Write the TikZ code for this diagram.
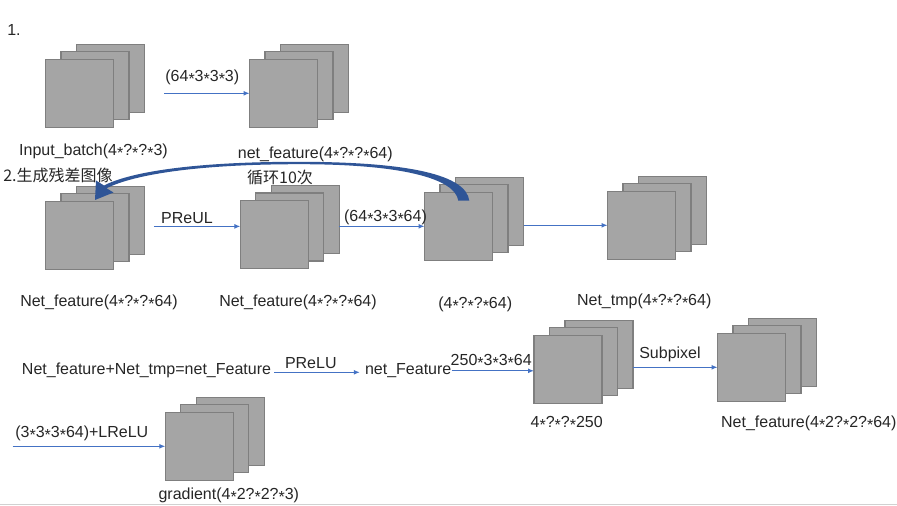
\documentclass[tikz,border=0pt]{standalone}
\usepackage{fontspec}
\setmainfont{Liberation Sans}
\newfontfamily\cjk{Noto Sans CJK SC}
\usepackage{tikz}
\usetikzlibrary{arrows.meta,calc}
\definecolor{mapgray}{HTML}{A5A5A5}
\definecolor{mapedge}{HTML}{7F7F7F}
\definecolor{flowblue}{HTML}{4472C4}
\definecolor{arcblue}{HTML}{2F5597}
\definecolor{txt}{HTML}{262626}

% three stacked feature maps, #1 = name of the front one, (#2,#3) its centre
\newcommand{\fmap}[3]{%
  \node[fm] (#1b) at ({#2+31},{#3-15}) {};
  \node[fm] (#1m) at ({#2+15.5},{#3-7.5}) {};
  \node[fm] (#1)  at (#2,#3) {};}
\newcommand{\ax}{\raisebox{-0.35ex}{*}}

\begin{document}
\begin{tikzpicture}[x=0.75pt, y=-0.75pt, >={Latex[length=4.5pt,width=3.75pt]},
    font=\fontsize{12}{14}\selectfont, text=txt,
    fm/.style={draw=mapedge, fill=mapgray, line width=0.9pt, minimum size=51pt,
               inner sep=0pt, outer sep=0pt},
    lab/.style={inner sep=0pt},
    flow/.style={->, draw=flowblue, line width=0.8pt},
    backarc/.style={fill=arcblue}]

    \useasboundingbox (0,0) rectangle (897,506);

    \fmap{in1}{79.5}{93.3}
    \fmap{nf1}{283.5}{93.3}
    \fmap{nf2}{79.5}{235.3}
    \fmap{nf3}{274.3}{234.5}
    \fmap{nf4}{458.5}{226.3}
    \fmap{tmp}{641.5}{225.3}
    \fmap{c250}{568}{369.3}
    \fmap{sub}{751.5}{367.3}
    \fmap{grad}{199.3}{446.3}

    \node[lab, anchor=west] (n1) at (7,30) {1.};
    \node[lab] (k1) at (202.3,77.5) {(64\ax3\ax3\ax3)};
    \node[lab] (l1) at (93.5,151.7) {Input\_batch(4\ax?\ax?\ax3)};
    \node[lab] (l2) at (315.3,154) {net\_feature(4\ax?\ax?\ax64)};
    \node[lab] (n2) at (58,175) {\cjk 2.生成残差图像};
    \node[lab] (rep) at (280,177) {\cjk 循环10次};
    \node[lab] (k2) at (187,217.6) {PReUL};
    \node[lab] (k3) at (385.5,217.6) {(64\ax3\ax3\ax64)};
    \node[lab] (l3) at (99,302) {Net\_feature(4\ax?\ax?\ax64)};
    \node[lab] (l4) at (298,302) {Net\_feature(4\ax?\ax?\ax64)};
    \node[lab] (l5) at (475.2,304.2) {(4\ax?\ax?\ax64)};
    \node[lab] (l6) at (644.2,301.7) {Net\_tmp(4\ax?\ax?\ax64)};
    \node[lab] (sum) at (146.5,370.8) {Net\_feature+Net\_tmp=net\_Feature};
    \node[lab] (k4) at (310.8,363.3) {PReLU};
    \node[lab] (nF) at (408.2,370.8) {net\_Feature};
    \node[lab] (k5) at (491.2,361) {250\ax3\ax3\ax64};
    \node[lab] (k6) at (670,354) {Subpixel};
    \node[lab] (l7) at (566.7,423.3) {4\ax?\ax?\ax250};
    \node[lab] (l8) at (808.8,423.3) {Net\_feature(4\ax2?\ax2?\ax64)};
    \node[lab] (k7) at (81.8,433.7) {(3\ax3\ax3\ax64)+LReLU};
    \node[lab] (l9) at (228.8,495.5) {gradient(4\ax2?\ax2?\ax3)};

    \coordinate (a1) at (164.3,93.3);
    \coordinate (a2) at (153.8,226.4);
    \coordinate (a8) at (12.7,446.3);

    \draw[flow] (a1) -- (nf1.west);
    \draw[flow] (a2) -- (a2 -| nf3.west);
    \draw[flow] (nf3b.east |- nf4.west) -- (nf4.west);
    \draw[flow] (nf4b.east |- tmp.west) -- (tmp.west);
    \draw[flow] ($(sum.east)+(3,1.5)$) -- ($(nF.west)+(-5,1.5)$);
    \draw[flow] (nF.east) -- (nF.east -| c250.west);
    \draw[flow] (c250b.east |- sub.west) -- (sub.west);
    \draw[flow] (a8) -- (grad.west);

    \fill[backarc] (469.3,200.7) .. controls (466,175) and (410,162) .. (300,161.8)
        .. controls (200,161.6) and (132,171) .. (104,185.5)
        -- (96,180.5) -- (95,200) -- (113.5,192.5) -- (106.5,188.3)
        .. controls (135,174) and (200,164.2) .. (300,164.2)
        .. controls (400,164.2) and (455,178) .. (458.3,200.7) -- cycle;

    \draw[black!18, line width=1pt] (0,504.5) -- (897,504.5);
\end{tikzpicture}
\end{document}
